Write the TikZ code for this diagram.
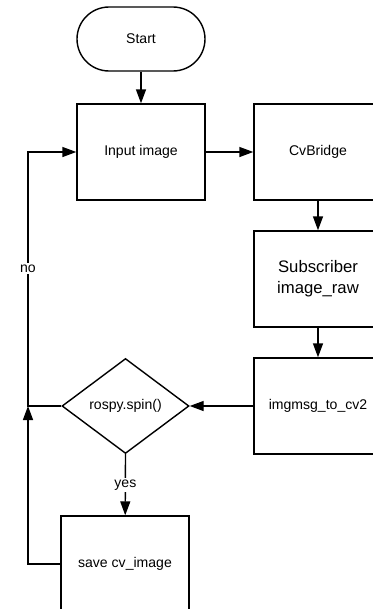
\documentclass[tikz,border=0pt]{standalone}
\usepackage{fontspec}
\setmainfont{Liberation Sans}
\usetikzlibrary{shapes.geometric,arrows.meta}

\begin{document}
\begin{tikzpicture}[
  font=\fontsize{8}{10}\selectfont,
  box/.style={draw, thick, minimum width=2.56cm, minimum height=1.92cm, align=center, inner sep=0pt},
  term/.style={draw, thick, rounded corners=0.64cm, minimum width=2.56cm, minimum height=1.28cm},
  decide/.style={draw, thick, diamond, minimum width=2.54cm, minimum height=1.9cm, inner sep=0pt},
  flow/.style={thick, -{Triangle[length=2.8mm, width=2mm]}},
  lbl/.style={fill=white, inner sep=1pt}
]
\useasboundingbox (0,0) rectangle (7.44,-12.18);

\def\lx{0.56}
\def\rx{6.36}

\node[term] (start) at (2.82,-0.78) {Start};
\node[box] (input) at (2.82,-3.04) {Input image};
\node[box] (bridge) at (\rx,-3.04) {CvBridge};
\node[box, font=\fontsize{9.5}{12}\selectfont] (sub) at (\rx,-5.58) {Subscriber\\image\_raw};
\node[box] (conv) at (\rx,-8.12) {imgmsg\_to\_cv2};
\node[decide] (spin) at (2.51,-8.12) {rospy.spin()};
\node[box] (save) at (2.5,-11.28) {save cv\_image};

\coordinate (join) at (\lx,-8.12);

\draw[flow] (start) -- (input);
\draw[flow] (input) -- (bridge);
\draw[flow] (bridge) -- (sub);
\draw[flow] (sub) -- (conv);
\draw[flow] (conv) -- (spin);
\draw[flow] (spin.south) -- node[lbl] {yes} (save);
% loop back
\draw[flow] (spin.west) -- (join) |- node[pos=0.27, lbl] {no} (input.west);
\draw[flow] (save.west) -| (join);
\end{tikzpicture}
\end{document}
